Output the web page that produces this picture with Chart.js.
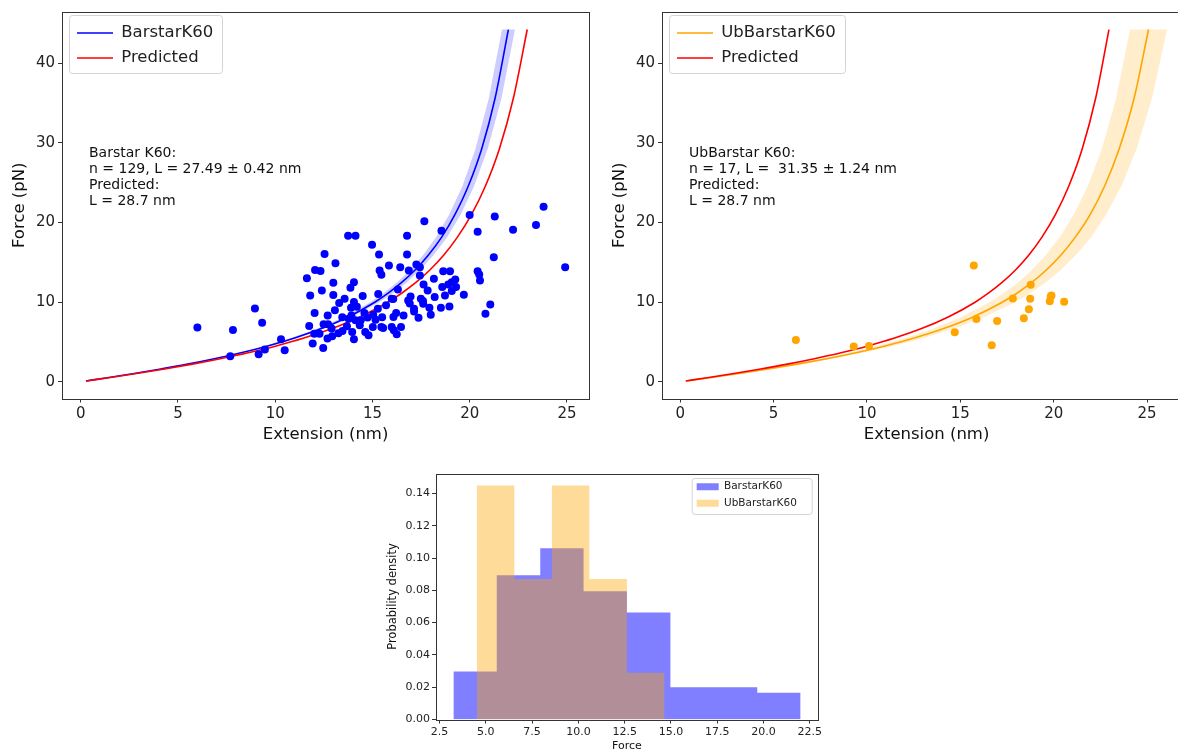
<!DOCTYPE html>
<html>
<head>
<meta charset="utf-8">
<script src="https://cdn.jsdelivr.net/npm/chart.js@4.4.1/dist/chart.umd.min.js"></script>
<style>
html, body { margin: 0; padding: 0; background: #fff; overflow: hidden; width: 1178px; height: 753px; }
canvas { position: absolute; }
</style>
</head>
<body>
<canvas id="barstarChart" width="600" height="455" style="left:0px;top:0px"></canvas>
<canvas id="ubChart" width="600" height="455" style="left:600px;top:0px"></canvas>
<canvas id="histChart" width="470" height="288" style="left:360px;top:465px"></canvas>
<script>
// fitted / predicted force-extension curves (force shared, extension per curve)
const curveForce = [0.1, 0.5, 1.03, 1.6, 2.21, 2.89, 3.64, 4.5, 5.49, 6.67, 8.13, 9.98, 11.11, 12.43, 13.99, 15.87, 18.15, 20.98, 24.57, 29.25, 35.51, 44.2];
const predictedExt = [0.29, 1.44, 2.87, 4.31, 5.74, 7.18, 8.61, 10.05, 11.48, 12.92, 14.35, 15.79, 16.50, 17.22, 17.94, 18.66, 19.37, 20.09, 20.81, 21.53, 22.24, 22.96];
const barstarFitExt = [0.27, 1.37, 2.75, 4.12, 5.50, 6.87, 8.25, 9.62, 11.00, 12.37, 13.75, 15.12, 15.81, 16.49, 17.18, 17.87, 18.56, 19.24, 19.93, 20.62, 21.30, 21.99];
const barstarLowExt = [0.27, 1.35, 2.71, 4.06, 5.41, 6.77, 8.12, 9.47, 10.83, 12.18, 13.54, 14.89, 15.57, 16.24, 16.92, 17.60, 18.27, 18.95, 19.63, 20.30, 20.98, 21.66];
const barstarHighExt = [0.28, 1.40, 2.79, 4.19, 5.58, 6.98, 8.37, 9.77, 11.16, 12.56, 13.96, 15.35, 16.05, 16.75, 17.44, 18.14, 18.84, 19.54, 20.23, 20.93, 21.63, 22.33];
const ubFitExt = [0.31, 1.57, 3.14, 4.70, 6.27, 7.84, 9.41, 10.97, 12.54, 14.11, 15.68, 17.24, 18.03, 18.81, 19.59, 20.38, 21.16, 21.95, 22.73, 23.51, 24.30, 25.08];
const ubLowExt = [0.30, 1.51, 3.01, 4.52, 6.02, 7.53, 9.03, 10.54, 12.04, 13.55, 15.06, 16.56, 17.31, 18.07, 18.82, 19.57, 20.32, 21.08, 21.83, 22.58, 23.34, 24.09];
const ubHighExt = [0.33, 1.63, 3.26, 4.89, 6.52, 8.15, 9.78, 11.41, 13.04, 14.67, 16.30, 17.92, 18.74, 19.55, 20.37, 21.18, 22.00, 22.81, 23.63, 24.44, 25.26, 26.07];

// measured unfolding events
const barstarExt = [6.00, 7.83, 7.69, 8.96, 9.33, 9.15, 9.47, 10.30, 10.49, 11.63, 11.80, 12.05, 12.33, 12.54, 13.10, 12.99, 12.99, 12.40, 12.03, 11.75,
  12.01, 12.28, 11.93, 12.47, 12.49, 12.72, 12.90, 12.69, 12.93, 13.07, 13.29, 13.57, 13.75, 14.13, 13.87, 14.05, 14.05, 14.50, 13.46, 13.69,
  13.78, 13.92, 13.96, 14.05, 14.13, 14.40, 14.59, 14.63, 14.80, 14.98, 15.34, 15.28, 15.16, 15.46, 15.02, 15.37, 15.46, 15.85, 15.99, 15.99,
  16.08, 16.22, 16.25, 16.47, 16.31, 16.43, 16.78, 16.78, 16.87, 17.26, 17.44, 17.44, 17.67, 16.84, 16.96, 17.14, 17.14, 17.37, 17.49, 17.61,
  17.63, 17.84, 17.93, 18.20, 18.16, 18.52, 18.55, 18.59, 18.64, 18.73, 18.90, 18.96, 18.99, 19.08, 19.26, 19.08, 19.70, 20.00, 20.41, 20.41,
  20.49, 20.53, 20.81, 21.06, 21.24, 21.29, 22.23, 23.41, 23.80, 24.91, 15.04, 16.92, 17.60, 14.20, 13.45, 14.75, 15.70, 16.60, 13.90, 12.70,
  18.00, 15.50, 16.10, 15.55, 13.25, 14.35, 16.07, 15.30, 19.30];
const barstarForce = [6.80, 6.50, 3.20, 9.20, 7.40, 3.46, 4.04, 5.33, 3.96, 13.00, 10.83, 14.04, 13.90, 16.04, 14.88, 12.42, 10.88, 11.46, 8.63, 7.00,
  6.04, 6.04, 4.79, 4.25, 7.21, 7.21, 6.67, 5.42, 5.71, 8.96, 9.88, 10.42, 18.33, 18.33, 11.79, 12.50, 10.00, 10.75, 6.38, 6.96,
  7.92, 8.33, 6.25, 5.33, 7.71, 7.71, 8.63, 6.25, 5.83, 17.20, 15.96, 9.17, 7.79, 6.88, 6.88, 13.96, 13.42, 14.58, 10.42, 6.88,
  8.13, 8.63, 5.96, 6.88, 11.58, 14.38, 18.33, 15.96, 13.96, 14.71, 14.38, 13.33, 20.13, 10.21, 10.71, 9.17, 8.83, 8.04, 10.42, 9.79,
  12.21, 11.46, 9.29, 10.63, 12.92, 9.29, 18.96, 11.88, 13.88, 10.83, 12.21, 9.46, 13.88, 12.50, 12.83, 11.38, 10.92, 20.92, 18.83, 13.88,
  13.46, 12.71, 8.54, 9.71, 15.63, 20.75, 19.08, 19.67, 21.96, 14.38, 8.42, 9.83, 10.13, 9.40, 8.10, 8.05, 9.60, 8.30, 9.30, 8.30,
  8.40, 8.10, 6.46, 6.75, 6.10, 7.10, 10.40, 11.00, 11.90];
const ubExt = [6.19, 9.29, 10.11, 14.70, 15.72, 15.86, 16.68, 16.97, 17.81, 18.40, 18.67, 18.74, 18.77, 19.79, 19.88, 20.56, 19.84];
const ubForce = [5.25, 4.42, 4.50, 6.21, 14.59, 7.88, 4.59, 7.63, 10.46, 7.96, 9.09, 10.42, 12.17, 10.09, 10.84, 10.05, 10.70];

// force histograms (probability density)
const barstarBinEdges = [3.25, 5.59, 7.94, 10.28, 12.62, 14.97, 17.31, 19.66, 22.0];
const barstarDensity = [0.0298, 0.0894, 0.106, 0.0795, 0.0662, 0.0199, 0.0199, 0.0166];
const ubBinEdges = [4.51, 6.54, 8.57, 10.59, 12.62, 14.65];
const ubDensity = [0.145, 0.087, 0.145, 0.087, 0.029];

const extTicks = [0, 5, 10, 15, 20, 25];
const forceTicks = [0, 10, 20, 30, 40];
const histForceTicks = [2.5, 5, 7.5, 10, 12.5, 15, 17.5, 20, 22.5];
const histDensityTicks = [0, 0.02, 0.04, 0.06, 0.08, 0.1, 0.12, 0.14];

Chart.defaults.font.family = "'DejaVu Sans', sans-serif";
Chart.defaults.color = '#222';

const toPoints = (xs, ys) => xs.map((x, i) => ({x: x, y: ys[i]}));
const band = (low, high, ys) => toPoints(low, ys).concat(toPoints(high, ys).reverse());
const steps = (edges, dens) => edges.map((e, i) => ({x: e, y: dens[Math.min(i, dens.length - 1)]}));

// spines, legend frame, placed legend and the text block
const decor = {
    id: 'decor',
    afterLayout(chart, args, opts) {
        const lg = chart.legend;
        if (!lg || !opts.legendAt) return;
        const pad = lg.options.labels.padding;
        const w = lg.width, h = lg.height;
        lg.left = opts.legendAt[0] - pad;
        lg.top = opts.legendAt[1] - pad;
        lg.right = lg.left + w;
        lg.bottom = lg.top + h;
    },
    beforeDraw(chart, args, opts) {
        if (!opts.legendFrame) return;
        const ctx = chart.ctx;
        const [x, y, w, h] = opts.legendFrame;
        ctx.save();
        ctx.beginPath();
        ctx.roundRect(x + 0.5, y + 0.5, w, h, 3);
        ctx.fillStyle = '#fff';
        ctx.fill();
        ctx.strokeStyle = '#d4d4d4';
        ctx.lineWidth = 1;
        ctx.stroke();
        ctx.restore();
    },
    afterDraw(chart, args, opts) {
        const ctx = chart.ctx;
        const a = chart.chartArea;
        ctx.save();
        if (opts.notes) {
            ctx.font = opts.noteFont;
            ctx.fillStyle = '#111';
            ctx.textBaseline = 'middle';
            opts.notes.forEach((t, i) => ctx.fillText(t, opts.noteAt[0], opts.noteAt[1] + i * 16.2));
        }
        ctx.strokeStyle = '#333';
        ctx.lineWidth = 1;
        ctx.strokeRect(Math.round(a.left) + 0.5, Math.round(a.top) + 0.5, Math.round(a.width), Math.round(a.height));
        ctx.restore();
    }
};

function axis(min, max, ticks, size, title, fs, titlePad, fit, extra) {
    return Object.assign({
        type: 'linear',
        min: min,
        max: max,
        afterBuildTicks: s => { s.ticks = ticks.map(v => ({value: v})); },
        grid: {display: true, drawOnChartArea: false, drawTicks: true, tickLength: 4, color: '#333'},
        border: {display: false},
        ticks: {font: {size: fs}, color: '#222', padding: 3, maxRotation: 0, autoSkip: false},
        title: {display: true, text: title, font: {size: size}, color: '#111', padding: titlePad}
    }, fit, extra || {});
}

function forcePanel(id, name, color, bandColor, fitExt, lowExt, highExt, ptsX, ptsY, xMin, xMax, pxPerUnit, notes, frameW) {
    new Chart(document.getElementById(id), {
        type: 'line',
        data: {
            datasets: [
                {label: name, data: toPoints(fitExt, curveForce), borderColor: color, borderWidth: 1.6, pointRadius: 0,
                    cubicInterpolationMode: 'monotone', fill: false, order: 2, inLegend: true},
                {label: 'Predicted', data: toPoints(predictedExt, curveForce), borderColor: '#ff0000', borderWidth: 1.6, pointRadius: 0,
                    cubicInterpolationMode: 'monotone', fill: false, order: 1, inLegend: true},
                {label: name + ' data', data: toPoints(ptsX, ptsY), showLine: false, pointRadius: 4, pointBorderWidth: 0,
                    pointBackgroundColor: color, borderColor: color, order: 0},
                {label: name + ' band', data: band(lowExt, highExt, curveForce), borderWidth: 0, borderColor: 'transparent',
                    backgroundColor: bandColor, pointRadius: 0, tension: 0, fill: 'shape', order: 3}
            ]
        },
        options: {
            responsive: false,
            animation: false,
            layout: {padding: {left: 0, right: 600 - 62 - (xMax - xMin) * pxPerUnit, top: 12, bottom: 0}},
            scales: {
                x: axis(xMin, xMax, extTicks, 16.5, 'Extension (nm)', 15, {top: 4, bottom: 10},
                    {afterFit: s => { s.height = 56.5; }}),
                y: axis(-2.1, 46.4, forceTicks, 16.5, 'Force (pN)', 15, {top: 10, bottom: 4},
                    {afterFit: s => { s.width = 62; }})
            },
            plugins: {
                tooltip: {enabled: false},
                legend: {
                    position: 'chartArea',
                    align: 'start',
                    labels: {
                        font: {size: 16.5}, color: '#222', padding: 8.5,
                        usePointStyle: true, pointStyle: 'line', pointStyleWidth: 36,
                        filter: (item, data) => data.datasets[item.datasetIndex].inLegend,
                        sort: (a, b) => a.datasetIndex - b.datasetIndex
                    }
                },
                decor: {
                    legendAt: [77, 24.75],
                    legendFrame: [69, 15, frameW, 58],
                    notes: notes,
                    noteAt: [89, 153],
                    noteFont: "14px 'DejaVu Sans'"
                }
            }
        },
        plugins: [decor]
    });
}

forcePanel('barstarChart', 'BarstarK60', '#0000ff', 'rgba(0, 0, 255, 0.2)', barstarFitExt, barstarLowExt, barstarHighExt,
    barstarExt, barstarForce, -0.96, 26.14, 19.45,
    ['Barstar K60:', 'n = 129, L = 27.49 \u00b1 0.42 nm', 'Predicted:', 'L = 28.7 nm'], 153);

forcePanel('ubChart', 'UbBarstarK60', '#ffa500', 'rgba(255, 165, 0, 0.2)', ubFitExt, ubLowExt, ubHighExt,
    ubExt, ubForce, -0.98, 27.36, 18.67,
    ['UbBarstar K60:', 'n = 17, L =  31.35 \u00b1 1.24 nm', 'Predicted:', 'L = 28.7 nm'], 176);

new Chart(document.getElementById('histChart'), {
    type: 'line',
    data: {
        datasets: [
            {label: 'BarstarK60', data: steps(barstarBinEdges, barstarDensity), stepped: 'before', fill: 'origin',
                backgroundColor: 'rgba(0, 0, 255, 0.5)', borderColor: 'transparent', borderWidth: 0, pointRadius: 0, order: 2},
            {label: 'UbBarstarK60', data: steps(ubBinEdges, ubDensity), stepped: 'before', fill: 'origin',
                backgroundColor: 'rgba(255, 165, 0, 0.4)', borderColor: 'transparent', borderWidth: 0, pointRadius: 0, order: 1}
        ]
    },
    options: {
        responsive: false,
        animation: false,
        layout: {padding: {left: 0, right: 12, top: 6, bottom: 0}},
        scales: {
            x: axis(2.31, 22.94, histForceTicks, 11, 'Force', 11, {top: 2, bottom: 0.4},
                {afterFit: s => { s.height = 33.5; }},
                {ticks: {font: {size: 11}, color: '#222', padding: 2, maxRotation: 0, autoSkip: false, callback: v => v.toFixed(1)}}),
            y: axis(0, 0.1523, histDensityTicks, 11.5, 'Probability density', 11, {top: 26, bottom: 2},
                {afterFit: s => { s.width = 76; }},
                {ticks: {font: {size: 11}, color: '#222', padding: 2, autoSkip: false, callback: v => v.toFixed(2)}})
        },
        plugins: {
            tooltip: {enabled: false},
            legend: {
                position: 'chartArea',
                align: 'start',
                labels: {
                    font: {size: 10.5}, color: '#222', padding: 6, boxWidth: 22, boxHeight: 7,
                    sort: (a, b) => a.datasetIndex - b.datasetIndex
                }
            },
            decor: {
                legendAt: [336.7, 16.5],
                legendFrame: [331.7, 13, 120, 36]
            }
        }
    },
    plugins: [decor]
});
</script>
</body>
</html>
